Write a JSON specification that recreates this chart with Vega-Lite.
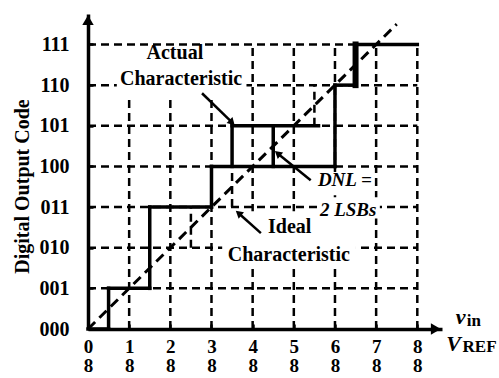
{
  "$schema": "https://vega.github.io/schema/vega-lite/v6.json",
  "width": 354,
  "height": 315,
  "autosize": "none",
  "padding": {"left": 88, "top": 14, "right": 57, "bottom": 49},
  "background": "white",
  "config": {"view": {"stroke": null}, "font": "Liberation Serif"},
  "datasets": {
    "grid": [
      {"x": 1, "y": 0, "x2": 1, "y2": 7},
      {"x": 2, "y": 0, "x2": 2, "y2": 7},
      {"x": 3, "y": 0, "x2": 3, "y2": 7},
      {"x": 4, "y": 0, "x2": 4, "y2": 7},
      {"x": 5, "y": 0, "x2": 5, "y2": 7},
      {"x": 6, "y": 0, "x2": 6, "y2": 7},
      {"x": 7, "y": 0, "x2": 7, "y2": 7},
      {"x": 8, "y": 0, "x2": 8, "y2": 7},
      {"x": 0, "y": 1, "x2": 8, "y2": 1},
      {"x": 0, "y": 2, "x2": 8, "y2": 2},
      {"x": 0, "y": 3, "x2": 8, "y2": 3},
      {"x": 0, "y": 4, "x2": 8, "y2": 4},
      {"x": 0, "y": 5, "x2": 8, "y2": 5},
      {"x": 0, "y": 6, "x2": 8, "y2": 6},
      {"x": 0, "y": 7, "x2": 8, "y2": 7},
      {"x": 2.5, "y": 2, "x2": 2.5, "y2": 3},
      {"x": 3.5, "y": 3, "x2": 3.5, "y2": 4},
      {"x": 5.5, "y": 5, "x2": 5.5, "y2": 6}
    ],
    "boxes": [
      {"x": 0.7, "x2": 3.85, "y": 5.7, "y2": 6.93},
      {"x": 3.26, "x2": 6.51, "y": 1.5, "y2": 2.9},
      {"x": 5.15, "x2": 6.66, "y": 3.29, "y2": 3.86},
      {"x": 5.59, "x2": 7.09, "y": 2.72, "y2": 3.24}
    ],
    "ideal": [
      {"x": 0, "y": 0},
      {"x": 7.5, "y": 7.5}
    ],
    "actual": [
      {"x": 0, "y": 0, "x2": 0.5, "y2": 0},
      {"x": 0.5, "y": 0, "x2": 0.5, "y2": 1},
      {"x": 0.5, "y": 1, "x2": 1.5, "y2": 1},
      {"x": 1.5, "y": 1, "x2": 1.5, "y2": 3},
      {"x": 1.5, "y": 3, "x2": 3, "y2": 3},
      {"x": 3, "y": 3, "x2": 3, "y2": 4},
      {"x": 3, "y": 4, "x2": 6, "y2": 4},
      {"x": 3.5, "y": 4, "x2": 3.5, "y2": 5},
      {"x": 3.5, "y": 5, "x2": 5.6, "y2": 5},
      {"x": 4.5, "y": 4, "x2": 4.5, "y2": 5},
      {"x": 6, "y": 4, "x2": 6, "y2": 6},
      {"x": 6, "y": 6, "x2": 6.5, "y2": 6},
      {"x": 6.5, "y": 6, "x2": 6.5, "y2": 7},
      {"x": 6.5, "y": 7, "x2": 8, "y2": 7}
    ],
    "arrows": [
      {"name": "actual", "x": 2.77, "y": 5.8, "x2": 3.48, "y2": 5.1},
      {"name": "dnl", "x": 5.41, "y": 3.66, "x2": 4.63, "y2": 4.3},
      {"name": "ideal", "x": 4.2, "y": 2.36, "x2": 3.68, "y2": 2.83}
    ],
    "notes": [
      {"t": "Actual", "x": 2.11, "y": 6.78},
      {"t": "Characteristic", "x": 2.26, "y": 6.14},
      {"t": "Ideal", "x": 4.9, "y": 2.5},
      {"t": "Characteristic", "x": 4.88, "y": 1.82}
    ],
    "notesItalic": [
      {"t": "DNL =", "x": 6.24, "y": 3.66},
      {"t": "2 LSBs", "x": 6.32, "y": 2.92}
    ],
    "axisArrows": [
      {"dir": "right", "x": 8.45, "y": 0},
      {"dir": "up", "x": 0, "y": 7.6}
    ]
  },
  "layer": [
    {
      "data": {"name": "grid"},
      "mark": {"type": "rule", "stroke": "black", "strokeWidth": 2.5, "strokeDash": [8, 5]},
      "encoding": {
        "x": {
          "field": "x", "type": "quantitative",
          "scale": {"domain": [0, 8.6], "nice": false, "zero": false},
          "axis": {
            "title": null,
            "values": [0, 0.5, 1, 1.5, 2, 2.5, 3, 3.5, 4, 4.5, 5, 5.5, 6, 6.5, 7, 7.5, 8],
            "labelExpr": "datum.value % 1 == 0 ? [format(datum.value, 'd'), '8'] : ''",
            "labelFont": "Liberation Serif", "labelFontWeight": "bold", "labelFontSize": 19,
            "labelColor": "black", "labelLineHeight": 19.5, "labelPadding": 13,
            "labelFlush": false, "labelOverlap": false,
            "domainColor": "black", "domainWidth": 3.5,
            "tickColor": "black", "tickSize": -5, "tickWidth": 2.5,
            "grid": false
          }
        },
        "x2": {"field": "x2"},
        "y": {
          "field": "y", "type": "quantitative",
          "scale": {"domain": [0, 7.75], "nice": false, "zero": false},
          "axis": {
            "title": "Digital Output Code",
            "titleFont": "Liberation Serif", "titleFontWeight": "bold", "titleFontSize": 20,
            "titleColor": "black", "titleAngle": 270, "titleX": -66, "titleY": 172,
            "titleAlign": "center", "titleBaseline": "middle",
            "values": [0, 0.5, 1, 1.5, 2, 2.5, 3, 3.5, 4, 4.5, 5, 5.5, 6, 6.5, 7, 7.5],
            "labelExpr": "datum.value % 1 == 0 ? ['000','001','010','011','100','101','110','111'][datum.value] : ''",
            "labelFont": "Liberation Serif", "labelFontWeight": "bold", "labelFontSize": 20,
            "labelColor": "black", "labelPadding": 24,
            "labelFlush": false, "labelOverlap": false,
            "domainColor": "black", "domainWidth": 3.5,
            "tickColor": "black", "tickSize": -5, "tickWidth": 2.5,
            "grid": false
          }
        },
        "y2": {"field": "y2"}
      }
    },
    {
      "data": {"name": "boxes"},
      "mark": {"type": "rect", "fill": "white"},
      "encoding": {
        "x": {"field": "x", "type": "quantitative"},
        "x2": {"field": "x2"},
        "y": {"field": "y", "type": "quantitative"},
        "y2": {"field": "y2"}
      }
    },
    {
      "data": {"name": "ideal"},
      "mark": {"type": "line", "stroke": "black", "strokeWidth": 3, "strokeDash": [10, 6]},
      "encoding": {
        "x": {"field": "x", "type": "quantitative"},
        "y": {"field": "y", "type": "quantitative"}
      }
    },
    {
      "data": {"name": "actual"},
      "mark": {"type": "rule", "stroke": "black", "strokeCap": "square"},
      "encoding": {
        "x": {"field": "x", "type": "quantitative"},
        "x2": {"field": "x2"},
        "y": {"field": "y", "type": "quantitative"},
        "y2": {"field": "y2"},
        "strokeWidth": {"condition": {"test": "datum.x == 6.5 && datum.x2 == 6.5", "value": 6}, "value": 3.5}
      }
    },
    {
      "data": {"name": "arrows"},
      "mark": {"type": "rule", "stroke": "black", "strokeWidth": 2.5},
      "encoding": {
        "x": {"field": "x", "type": "quantitative"},
        "x2": {"field": "x2"},
        "y": {"field": "y", "type": "quantitative"},
        "y2": {"field": "y2"}
      }
    },
    {
      "data": {"name": "arrows"},
      "mark": {"type": "point", "shape": "triangle", "filled": true, "color": "black", "size": 70, "opacity": 1},
      "encoding": {
        "x": {"field": "x2", "type": "quantitative"},
        "y": {"field": "y2", "type": "quantitative"},
        "angle": {"condition": {"test": "datum.name == 'actual'", "value": 135}, "value": 310}
      }
    },
    {
      "data": {"name": "axisArrows"},
      "mark": {"type": "point", "filled": true, "color": "black", "size": 130, "opacity": 1},
      "encoding": {
        "x": {"field": "x", "type": "quantitative"},
        "y": {"field": "y", "type": "quantitative"},
        "shape": {"condition": {"test": "datum.dir == 'right'", "value": "triangle-right"}, "value": "triangle-up"}
      }
    },
    {
      "data": {"name": "notes"},
      "mark": {"type": "text", "font": "Liberation Serif", "fontWeight": "bold", "fontSize": 20, "color": "black", "align": "center", "baseline": "middle"},
      "encoding": {
        "x": {"field": "x", "type": "quantitative"},
        "y": {"field": "y", "type": "quantitative"},
        "text": {"field": "t"}
      }
    },
    {
      "data": {"name": "notesItalic"},
      "mark": {"type": "text", "font": "Liberation Serif", "fontWeight": "bold", "fontStyle": "italic", "fontSize": 19, "color": "black", "align": "center", "baseline": "middle"},
      "encoding": {
        "x": {"field": "x", "type": "quantitative"},
        "y": {"field": "y", "type": "quantitative"},
        "text": {"field": "t"}
      }
    },
    {
      "data": {"values": [{"t": "v", "x": 9.05, "y": 0.3}, {"t": "V", "x": 8.88, "y": -0.37}]},
      "mark": {"type": "text", "font": "Liberation Serif", "fontWeight": "bold", "fontStyle": "italic", "fontSize": 22, "color": "black", "align": "center", "baseline": "middle"},
      "encoding": {
        "x": {"field": "x", "type": "quantitative"},
        "y": {"field": "y", "type": "quantitative"},
        "text": {"field": "t"}
      }
    },
    {
      "data": {"values": [{"t": "in", "x": 9.2, "y": 0.2}, {"t": "REF", "x": 9.1, "y": -0.44}]},
      "mark": {"type": "text", "font": "Liberation Serif", "fontWeight": "bold", "fontSize": 17, "color": "black", "align": "left", "baseline": "middle"},
      "encoding": {
        "x": {"field": "x", "type": "quantitative"},
        "y": {"field": "y", "type": "quantitative"},
        "text": {"field": "t"}
      }
    }
  ]
}
